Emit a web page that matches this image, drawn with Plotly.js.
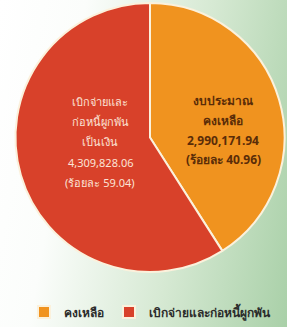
<!DOCTYPE html>
<html>
<head>
<meta charset="utf-8">
<script src="https://cdn.plot.ly/plotly-3.0.1.min.js"></script>
<style>
html,body{margin:0;padding:0;}
body{width:287px;height:327px;background:linear-gradient(100deg,#ffffff 0%,#fbfdfb 25%,#d6e9d3 62%,#a9d0a8 100%);}
#chart{width:287px;height:327px;}
</style>
</head>
<body>
<div id="chart"></div>
<script>
const labels = ["คงเหลือ", "เบิกจ่ายและก่อหนี้ผูกพัน"];
const values = [2990171.94, 4309828.06];
const remainLines = ["งบประมาณ", "คงเหลือ", "2,990,171.94", "(ร้อยละ 40.96)"];
const spentLines = ["เบิกจ่ายและ", "ก่อหนี้ผูกพัน", "เป็นเงิน", "4,309,828.06", "(ร้อยละ 59.04)"];
const colors = ["#F0931F", "#D8412A"];

const W = 287, H = 327;
const M = {l: 15, r: 2, t: 3, b: 54};
const plotW = W - M.l - M.r, plotH = H - M.t - M.b;
const px2x = px => (px - M.l) / plotW;
const py2y = py => (H - M.b - py) / plotH;

function lineAnnotations(lines, cx, cyTop, step, font) {
  return lines.map((t, i) => ({
    text: t, showarrow: false, xref: "paper", yref: "paper",
    x: px2x(cx), y: py2y(cyTop + i * step), xanchor: "center", yanchor: "middle",
    font: font
  }));
}

const annotations = [].concat(
  lineAnnotations(remainLines, 223, 101, 19.8,
    {size: 12, color: "#5a2c08", family: "Noto Sans, sans-serif", weight: "bold"}),
  lineAnnotations(spentLines, 100, 102, 20.2,
    {size: 11, color: "#fbe3d6", family: "Noto Sans, sans-serif"})
);

Plotly.newPlot("chart", [{
  type: "pie",
  labels: labels,
  values: values,
  textinfo: "none",
  sort: false,
  direction: "clockwise",
  rotation: 0,
  marker: {colors: colors, line: {color: "#fbf1dc", width: 2}},
  hoverinfo: "none"
}], {
  width: W, height: H,
  margin: M,
  paper_bgcolor: "rgba(0,0,0,0)",
  plot_bgcolor: "rgba(0,0,0,0)",
  showlegend: true,
  annotations: annotations,
  legend: {orientation: "h", x: 0.5, xanchor: "center", y: py2y(312), yanchor: "middle",
           font: {size: 12, color: "#2b2b2b", family: "Noto Sans, sans-serif", weight: "bold"}},
}, {displayModeBar: false, staticPlot: true});
</script>
</body>
</html>
